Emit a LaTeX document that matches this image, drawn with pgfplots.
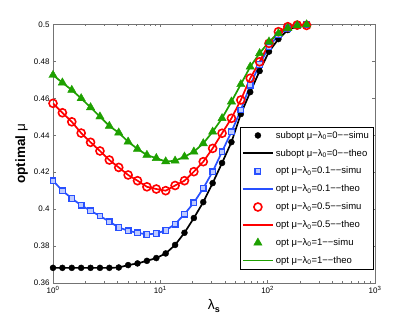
\documentclass[border=0pt]{standalone}
\usepackage{pgfplots}
\pgfplotsset{compat=1.18}
\usepackage{pgfplotstable}
\usepackage{fontspec}
\setmainfont{Liberation Sans}
\definecolor{mblue}{RGB}{40,80,255}
\definecolor{mred}{RGB}{255,0,0}
\definecolor{mgreen}{RGB}{30,160,0}
\pgfplotstableread{
x b u r g
1 0.3682 0.4154 0.4573 0.4726
1.2232 0.3682 0.4100 0.4522 0.4685
1.4962 0.3682 0.4058 0.4473 0.4645
1.8302 0.3682 0.4021 0.4412 0.4600
2.2387 0.3682 0.3991 0.4362 0.4551
2.7384 0.3682 0.3963 0.4315 0.4501
3.3497 0.3682 0.3932 0.4266 0.4450
4.0973 0.3684 0.3901 0.4226 0.4414
5.0119 0.3697 0.3883 0.4185 0.4365
6.1306 0.3706 0.3872 0.4154 0.4326
7.4989 0.3720 0.3863 0.4121 0.4293
9.1728 0.3735 0.3868 0.4109 0.4276
11.220 0.3760 0.3885 0.4100 0.4258
13.725 0.3806 0.3919 0.4128 0.4262
16.788 0.3872 0.3973 0.4154 0.4284
20.535 0.3952 0.4035 0.4203 0.4311
25.119 0.4038 0.4113 0.4257 0.4356
30.726 0.4141 0.4203 0.4329 0.4419
37.584 0.4250 0.4311 0.4411 0.4492
45.973 0.4363 0.4419 0.4492 0.4582
56.234 0.4515 0.4537 0.4591 0.4676
68.786 0.4634 0.4672 0.4709 0.4771
84.140 0.4748 0.4784 0.4798 0.4844
102.92 0.4853 0.4880 0.4898 0.4907
125.89 0.4921 0.4943 0.4961 0.4952
153.99 0.4970 0.4980 0.4988 0.4980
188.36 0.4990 0.4995 0.4997 0.4995
230.41 0.4999 0.5000 0.4995 0.5000
}\data
\begin{document}
\begin{tikzpicture}
\path (-53pt,-40pt) rectangle (362pt,283pt);
\begin{axis}[
  at={(0pt,0pt)}, anchor=south west,
  scale only axis, width=322pt, height=258.5pt,
  xmode=log, xmin=1, xmax=1000, ymin=0.36, ymax=0.5,
  xtick={1,10,100,1000},
  xticklabels={10\textsuperscript{0},10\textsuperscript{1},10\textsuperscript{2},10\textsuperscript{3}},
  ytick={0.36,0.38,0.4,0.42,0.44,0.46,0.48,0.5},
  yticklabels={0.36,0.38,0.4,0.42,0.44,0.46,0.48,0.5},
  tick align=inside, major tick length=3pt, minor tick length=1.8pt,
  axis line style={black!55},
  every tick/.style={black!55},
  tick label style={font=\fontsize{8}{9}\selectfont, black},
  xlabel={\fontsize{14}{16}\selectfont λ\raisebox{-3pt}{\fontsize{9}{10}\selectfont\textbf{s}}},
  ylabel={\fontsize{13.5}{15}\selectfont\textbf{optimal} μ},
  xlabel style={yshift=1pt},
  ylabel style={yshift=-1pt},
  legend style={at={(0.994,0.054)}, anchor=south east, draw=black, fill=white,
    font=\fontsize{9.5}{11}\selectfont, row sep=5.5pt, inner sep=2pt,
    cells={anchor=west}},
  legend image code/.code={\draw[mark repeat=2,mark phase=2,#1] plot coordinates {(0pt,0pt)(15pt,0pt)(30pt,0pt)};},
]
\addplot[only marks, mark=*, black, mark size=3pt] table[x=x,y=b]{\data};
\addlegendentry{subopt μ−λ\textsubscript{0}=0−−simu}
\addplot[black, line width=1.7pt, no markers] table[x=x,y=b]{\data};
\addlegendentry{subopt μ−λ\textsubscript{0}=0−−theo}
\addplot[only marks, mark=square*, mark options={fill=mblue!30, draw=mblue}, mark size=2.8pt, line width=1.3pt] table[x=x,y=u]{\data};
\addlegendentry{opt μ−λ\textsubscript{0}=0.1−−simu}
\addplot[mblue, line width=1.7pt, no markers] table[x=x,y=u]{\data};
\addlegendentry{opt μ−λ\textsubscript{0}=0.1−−theo}
\addplot[only marks, mark=o, mred, mark size=4pt, line width=1.6pt] table[x=x,y=r]{\data};
\addlegendentry{opt μ−λ\textsubscript{0}=0.5−−simu}
\addplot[mred, line width=1.7pt, no markers] table[x=x,y=r]{\data};
\addlegendentry{opt μ−λ\textsubscript{0}=0.5−−theo}
\addplot[only marks, mark=triangle*, mgreen, mark size=4.8pt] table[x=x,y=g]{\data};
\addlegendentry{opt μ−λ\textsubscript{0}=1−−simu}
\addplot[mgreen, line width=1.7pt, no markers] table[x=x,y=g]{\data};
\addlegendentry{opt μ−λ\textsubscript{0}=1−−theo}
\end{axis}
\end{tikzpicture}
\end{document}
